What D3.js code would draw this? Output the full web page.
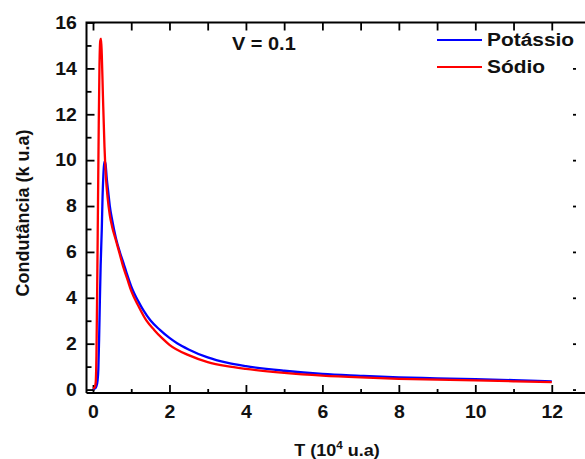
<!DOCTYPE html>
<html><head><meta charset="utf-8">
<script src="https://cdn.jsdelivr.net/npm/d3@7"></script>
<style>
body{margin:0;background:#fff;}
text{font-family:"Liberation Sans",Arial,sans-serif;font-weight:bold;fill:#111;}
</style></head>
<body><svg id="c" width="585" height="459"></svg>
<script>
// Data
const xTickValues = [0, 2, 4, 6, 8, 10, 12];
const yTickValues = [0, 2, 4, 6, 8, 10, 12, 14, 16];
const seriesNames = ["Potássio", "Sódio"];
const seriesColors = ["#0000ff", "#ff0000"];
const potassioT = [0, 0.05, 0.09, 0.12, 0.14, 0.16, 0.18, 0.2, 0.23, 0.25, 0.27, 0.29, 0.31, 0.33, 0.36, 0.4, 0.44, 0.5, 0.6, 0.71, 0.8, 0.88, 1.0, 1.2, 1.32, 1.5, 1.75, 2.0, 2.2, 2.5, 3.0, 3.5, 4, 5, 6, 7, 8, 9, 10, 11, 12];
const potassioG = [0.03, 0.05, 0.15, 0.4, 0.9, 2.2, 3.9, 5.4, 7.0, 8.4, 9.3, 9.8, 9.95, 9.8, 9.2, 8.6, 8.0, 7.4, 6.6, 5.95, 5.5, 5.08, 4.5, 3.8, 3.45, 3.02, 2.6, 2.25, 2.02, 1.75, 1.4, 1.17, 1.02, 0.82, 0.68, 0.6, 0.53, 0.49, 0.45, 0.41, 0.36];
const sodioT = [0, 0.04, 0.07, 0.09, 0.11, 0.13, 0.15, 0.17, 0.19, 0.21, 0.23, 0.26, 0.3, 0.34, 0.38, 0.44, 0.5, 0.6, 0.7, 0.8, 0.9, 1.0, 1.2, 1.4, 1.6, 1.8, 2.0, 2.5, 3.0, 3.5, 4, 5, 6, 7, 8, 9, 10, 11, 12];
const sodioG = [0.05, 0.08, 0.3, 1.5, 4.5, 8, 11.5, 14.2, 15.2, 15.3, 14.6, 12.8, 10.6, 9.2, 8.4, 7.6, 7.1, 6.5, 5.9, 5.3, 4.8, 4.3, 3.6, 3.0, 2.6, 2.25, 1.95, 1.5, 1.2, 1.02, 0.9, 0.73, 0.61, 0.53, 0.47, 0.43, 0.4, 0.36, 0.32];

const svg = d3.select("#c");
const L = 86.5, T = 22.5, B = 393, R = 590;
const x = d3.scaleLinear().domain([-0.17, 13]).range([L, R]);
const y = d3.scaleLinear().domain([-0.15, 16]).range([B, T]);
const sx = 1.08;

// frame
svg.append("path").attr("d", `M${L},${B}V${T}H${R}`).attr("fill","none").attr("stroke","#000").attr("stroke-width",2);
svg.append("line").attr("x1",L).attr("x2",R).attr("y1",B).attr("y2",B).attr("stroke","#000").attr("stroke-width",2);

function styleTicks(g){ g.select(".domain").remove(); g.selectAll("line").attr("stroke","#000").attr("stroke-width",1.8); }

// bottom major
const gx = svg.append("g").attr("transform",`translate(0,${B})`)
  .call(d3.axisBottom(x).tickValues(xTickValues).tickSize(-8).tickPadding(12).tickFormat(d3.format("d")));
styleTicks(gx);
gx.selectAll("text").attr("font-size",18).attr("fill","#111").attr("transform",`scale(${sx},1)`)
  .style("font-family","Liberation Sans, Arial, sans-serif").style("font-weight","bold");
// bottom minor
const gxm = svg.append("g").attr("transform",`translate(0,${B})`)
  .call(d3.axisBottom(x).tickValues(d3.range(1,13,2)).tickSize(-4).tickFormat(""));
styleTicks(gxm);
// top ticks
const gt = svg.append("g").attr("transform",`translate(0,${T})`)
  .call(d3.axisTop(x).tickValues(d3.range(0,13,1)).tickSize(-8).tickFormat(""));
styleTicks(gt);
// left major
const gy = svg.append("g").attr("transform",`translate(${L},0)`)
  .call(d3.axisLeft(y).tickValues(yTickValues).tickSize(-8).tickPadding(9).tickFormat(d3.format("d")));
styleTicks(gy);
gy.selectAll("text").attr("font-size",18).attr("fill","#111").attr("transform",`scale(${sx},1)`)
  .style("font-family","Liberation Sans, Arial, sans-serif").style("font-weight","bold");
const gym = svg.append("g").attr("transform",`translate(${L},0)`)
  .call(d3.axisLeft(y).tickValues(d3.range(1,16,2)).tickSize(-5).tickFormat(""));
styleTicks(gym);
// right side short ticks
const gr = svg.append("g").attr("transform",`translate(576,0)`)
  .call(d3.axisRight(y).tickValues(yTickValues.slice(0,-1)).tickSize(-3).tickFormat(""));
styleTicks(gr);

// lines
const line = d3.line().x(d=>x(d[0])).y(d=>y(d[1])).curve(d3.curveMonotoneX);
const potassio = potassioT.map((t,i)=>[t, potassioG[i]]);
const sodio = sodioT.map((t,i)=>[t, sodioG[i]]);
svg.append("path").datum(potassio).attr("d",line).attr("fill","none").attr("stroke",seriesColors[0]).attr("stroke-width",2.3);
svg.append("path").datum(sodio).attr("d",line).attr("fill","none").attr("stroke",seriesColors[1]).attr("stroke-width",2.3);

// legend
const lg = svg.append("g");
[0,1].forEach(i=>{
  const yy = 40 + i*27;
  lg.append("line").attr("x1",437).attr("x2",482).attr("y1",yy).attr("y2",yy).attr("stroke",seriesColors[i]).attr("stroke-width",2.2);
  lg.append("text").attr("transform",`translate(487,${yy+6}) scale(1.1,1)`).attr("font-size",19).text(seriesNames[i]);
});

// annotation
svg.append("text").attr("transform","translate(232,50) scale(1.05,1)").attr("font-size",19).text("V = 0.1");

// axis titles
const xt = svg.append("text").attr("transform","translate(337,456) scale(1.06,1)").attr("text-anchor","middle").attr("font-size",17);
xt.append("tspan").text("T (10");
xt.append("tspan").attr("font-size",11).attr("dy",-7).text("4");
xt.append("tspan").attr("dy",7).text(" u.a)");
svg.append("text").attr("transform","translate(29,213) rotate(-90)").attr("text-anchor","middle").attr("font-size",18).text("Condutância (k u.a)");
</script></body></html>
